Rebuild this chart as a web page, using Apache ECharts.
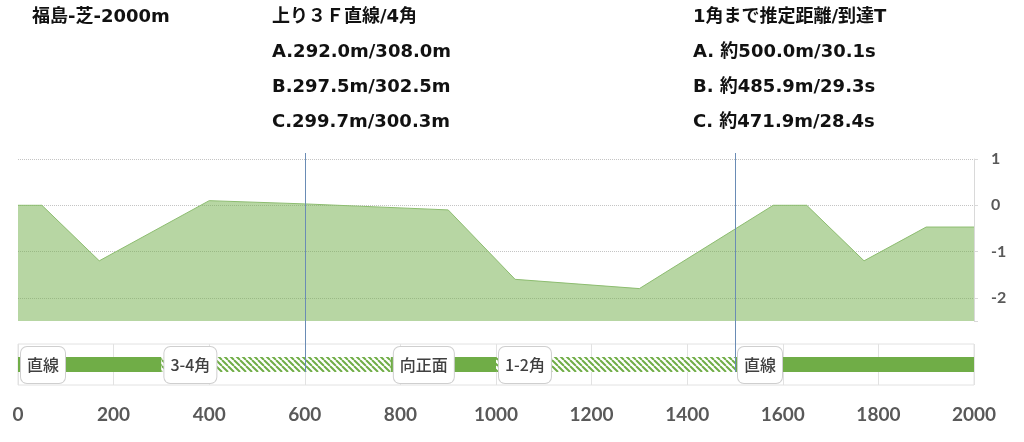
<!DOCTYPE html>
<html><head><meta charset="utf-8">
<script src="https://cdn.jsdelivr.net/npm/echarts@6/dist/echarts.min.js"></script>
<style>html,body{margin:0;padding:0;background:#fff}#c{width:1024px;height:442px}</style>
</head><body><div id="c"></div>
<script>
// ---- data ----
const distances  = [0, 50, 170, 400, 600, 900, 1040, 1300, 1580, 1650, 1770, 1900, 2000];
const elevations = [0, 0, -1.2, 0.1, 0.03, -0.1, -1.6, -1.8, 0, 0, -1.2, -0.47, -0.47];
const segStarts = [0, 300, 780, 1000, 1500];
const segEnds   = [300, 780, 1000, 1500, 2000];
const segNames  = ['直線', '3-4角', '向正面', '1-2角', '直線'];
const segCorner = [0, 1, 0, 1, 0];
const markerDistances = [600, 1500];
const titleText = '福島-芝-2000m';
const last3FLines = ['上り３Ｆ直線/4角', 'A.292.0m/308.0m', 'B.297.5m/302.5m', 'C.299.7m/300.3m'];
const firstCornerLines = ['1角まで推定距離/到達T', 'A. 約500.0m/30.1s', 'B. 約485.9m/29.3s', 'C. 約471.9m/28.4s'];

// ---- helpers ----
function makeHatch() {
  const n = 6;
  const c = document.createElement('canvas');
  c.width = n; c.height = n;
  const g = c.getContext('2d');
  g.fillStyle = '#ffffff'; g.fillRect(0, 0, n, n);
  g.strokeStyle = '#70ad47'; g.lineWidth = 2;
  g.beginPath();
  for (const k of [-n, 0, n]) { g.moveTo(k, 0); g.lineTo(k + n, n); }
  g.stroke();
  return c;
}
const hatchCanvas = makeHatch();

const GREEN = '#70ad47';
const textFont = '"DejaVu Sans", "Noto Sans CJK JP", sans-serif';
const axisFont = 'Lato, "Noto Sans", sans-serif';

const elevData = distances.map((d, i) => [d, elevations[i]]);
const segData = segStarts.map((s, i) => [s, segEnds[i], segCorner[i]]);

const chart = echarts.init(document.getElementById('c'), null, {renderer: 'canvas'});

const titleStyle = {fontFamily: textFont, fontWeight: 'bold', fontSize: 18, color: '#111', lineHeight: 35};

const option = {
  animation: false,
  backgroundColor: '#ffffff',
  title: [
    {text: titleText, left: 32, top: 0, padding: 0, textStyle: titleStyle},
    {text: last3FLines.join('\n'), left: 272, top: 0, padding: 0, textStyle: titleStyle},
    {text: firstCornerLines.join('\n'), left: 693, top: 0, padding: 0, textStyle: titleStyle}
  ],
  grid: [
    {left: 18, right: 50, top: 159, bottom: 121, containLabel: false, show: false},
    {left: 18, right: 50, top: 344, bottom: 57, containLabel: false, show: true,
     borderColor: '#e2e2e2', borderWidth: 1, backgroundColor: 'transparent'}
  ],
  xAxis: [
    {type: 'value', gridIndex: 0, min: 0, max: 2000, show: false,
     axisLine: {show: false}, axisTick: {show: false}, axisLabel: {show: false},
     splitLine: {show: false}},
    {type: 'value', gridIndex: 1, min: 0, max: 2000, interval: 200,
     axisLine: {show: false}, axisTick: {show: false},
     splitLine: {show: true, lineStyle: {color: '#e2e2e2', width: 1}},
     axisLabel: {margin: 20, fontFamily: axisFont, fontWeight: 'bold', fontSize: 19, color: '#595959',
       formatter: v => String(v)}}
  ],
  yAxis: [
    {type: 'value', gridIndex: 0, position: 'right', min: -2.5, max: 1, splitNumber: 3,
     axisLine: {show: true, onZero: false, lineStyle: {color: '#d9d9d9'}},
     axisTick: {show: true, length: 4, lineStyle: {color: '#d9d9d9'}},
     axisLabel: {margin: 17, fontFamily: axisFont, fontWeight: 'bold', fontSize: 16, color: '#595959',
       formatter: v => (Math.abs(v - Math.round(v)) < 1e-9 ? String(Math.round(v)) : '')},
     splitLine: {show: true, lineStyle: {type: 'dotted', width: 1,
       color: ['rgba(0,0,0,0)', '#c4c4c4', '#c4c4c4', '#c4c4c4', '#c4c4c4']}}},
    {type: 'value', gridIndex: 1, min: 0, max: 1, show: false}
  ],
  series: [
    {type: 'line', xAxisIndex: 0, yAxisIndex: 0, data: elevData, symbol: 'none',
     lineStyle: {color: '#8dbd70', width: 1},
     areaStyle: {color: GREEN, opacity: 0.5, origin: 'start'}, z: 2},
    {type: 'custom', xAxisIndex: 1, yAxisIndex: 1, data: segData, z: 3,
     renderItem: function (params, api) {
       const s = api.coord([api.value(0), 0.5]);
       const e = api.coord([api.value(1), 0.5]);
       const corner = api.value(2);
       const name = segNames[params.dataIndex];
       const h = 15;
       return {type: 'group', children: [
         {type: 'rect', shape: {x: s[0], y: s[1] - h / 2, width: e[0] - s[0], height: h},
          style: {fill: corner ? {image: hatchCanvas, repeat: 'repeat'} : GREEN}, z2: 1},
         {type: 'text', z2: 20,
          style: {text: name, x: s[0] + 3, y: s[1] + 0.5, align: 'left', verticalAlign: 'middle',
            font: '500 16px "Noto Sans CJK JP", sans-serif', fill: '#404040',
            backgroundColor: '#ffffff', borderColor: '#cfcfcf', borderWidth: 1, borderRadius: 6,
            padding: [10, 6]}}
       ]};
     }}
  ]
};
chart.setOption(option);

const lines = markerDistances.map(d => {
  const x = Math.round(chart.convertToPixel({xAxisIndex: 0}, d)) + 0.5;
  return {type: 'line', z: 5, shape: {x1: x, y1: 153, x2: x, y2: 372},
          style: {stroke: '#6a8cb5', lineWidth: 1}};
});
chart.setOption({graphic: lines});
</script>
</body></html>
